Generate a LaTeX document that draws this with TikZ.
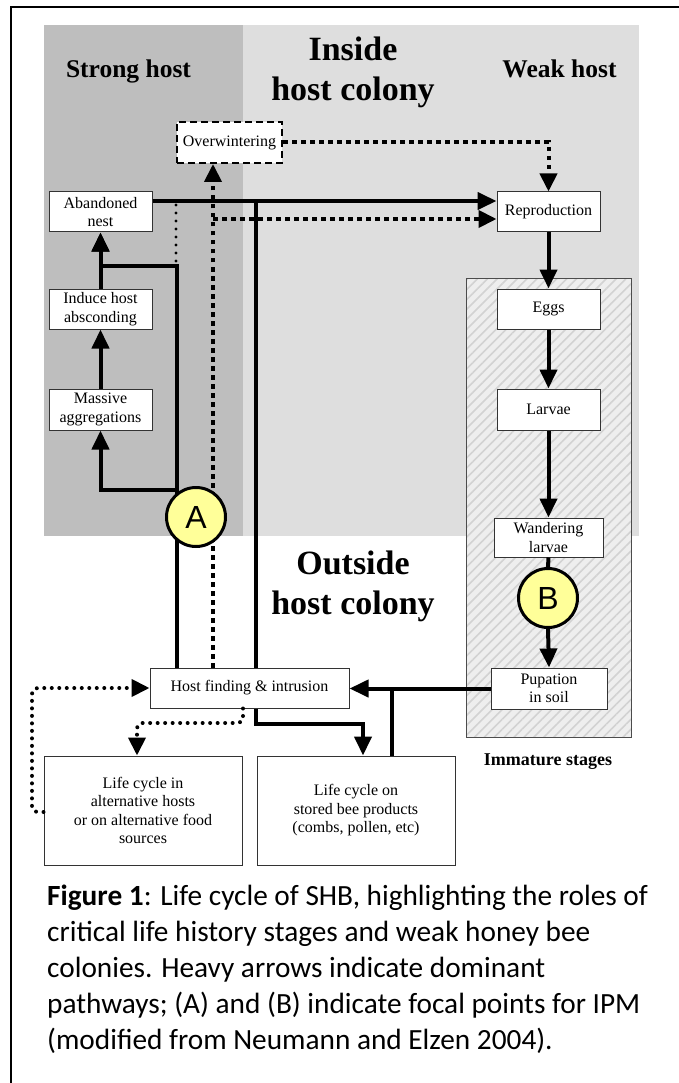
\documentclass[tikz,border=0pt]{standalone}
\usepackage{fontspec}
\setmainfont{Liberation Serif}
\newfontfamily\captionfont{Carlito}
\newfontfamily\markfont{Liberation Sans}
\usetikzlibrary{positioning,arrows.meta,patterns.meta}
\definecolor{strongzone}{RGB}{190,190,190}
\definecolor{weakzone}{RGB}{222,222,222}
\definecolor{soilzone}{RGB}{238,238,238}
\definecolor{soilhatch}{RGB}{210,210,210}
\definecolor{focusfill}{RGB}{255,255,153}
\tikzset{
  leadarrow/.style={-{Triangle[length=19pt,width=17pt]}, line width=4pt},
  dottip/.style={-{Triangle[length=18pt,width=17pt]}},
  sqdotted/.style={line width=4pt, dash pattern=on 4.5pt off 4.5pt},
  rnddotted/.style={line width=4pt, line cap=round, dash pattern=on 0pt off 7.5pt},
  stagebox/.style={draw=black!80, line width=1pt, fill=white, inner sep=0pt, minimum width=103pt, minimum height=40pt, align=center, font=\fontsize{16}{18.5}\selectfont},
  focusring/.style={circle, draw, line width=3pt, fill=focusfill, minimum size=59pt, inner sep=0pt, font=\markfont\fontsize{32}{32}\selectfont},
  zonelabel/.style={font=\bfseries\fontsize{25.5}{30}\selectfont},
  bigtitle/.style={font=\bfseries\fontsize{34}{40}\selectfont, align=center, inner sep=0pt}
}
\begin{document}
\begin{tikzpicture}[x=1pt, y=-1pt]
  \useasboundingbox (0,0) rectangle (679,1083);
  \fill[strongzone] (44,25) rectangle (243,536);
  \fill[weakzone] (243,25) rectangle (639,536);
  \draw[line width=2pt] (679,7) -- (11,7) -- (11,1083);
  \path[preaction={fill=soilzone}, pattern={Lines[angle=45,distance=7pt,line width=1.6pt]}, pattern color=soilhatch, draw=black!70, line width=1pt] (466,278) rectangle (631,737);

  \node[zonelabel, anchor=base] (stronglbl) at (128.5,78) {Strong host};
  \node[zonelabel, anchor=base] (weaklbl) at (559.5,78) {Weak host};
  \node[bigtitle] (insidelbl) at (353,72) {Inside\\host colony};
  \node[bigtitle] (outsidelbl) at (353,586) {Outside\\host colony};
  \node[font=\bfseries\fontsize{18}{20}\selectfont, anchor=base] (immlbl) at (548,765) {Immature stages};

  \node[stagebox, minimum width=105pt, minimum height=41pt, draw=black, line width=2pt, dash pattern=on 7pt off 4pt] (winter) at (229.5,142.5) {Overwintering};
  \node[stagebox] (abandon) at (100.5,212) {Abandoned\\nest};
  \node[stagebox] (induce) at (100.5,309) {Induce host\\absconding};
  \node[stagebox, minimum height=41pt] (massive) at (100.5,409.5) {Massive\\aggregations};
  \node[stagebox] (repro) at (548.5,212) {Reproduction};
  \node[stagebox] (eggs) at (548.5,309) {Eggs};
  \node[stagebox, minimum height=41pt] (larvae) at (548.5,409.5) {Larvae};
  \node[stagebox, minimum width=109pt, minimum height=39pt] (wander) at (548.5,537.5) {Wandering\\larvae};
  \node[stagebox, minimum width=116pt, minimum height=41pt] (pupa) at (549,688.5) {Pupation\\in soil};
  \node[stagebox, minimum width=199pt] (hostfind) at (249.5,688) {Host finding \& intrusion};
  \node[stagebox, minimum width=198pt, minimum height=109pt] (althost) at (143,810.5) {Life cycle in\\alternative hosts\\or on alternative food\\sources};
  \node[stagebox, minimum width=198pt, minimum height=109pt] (stored) at (356,810.5) {Life cycle on\\stored bee products\\(combs, pollen, etc)};
  \node[focusring] (focusB) at (548,598) {B};

  \coordinate (dotcol) at (213,219);
  \coordinate (climb) at (177,266);
  \coordinate (lowfork) at (177,490);
  \coordinate (thinstub) at (176,205);
  \coordinate (feedtop) at (256,201);
  \coordinate (storefork) at (256,724);
  \coordinate (altfork) at (243,723);
  \coordinate (loopcol) at (32,688);

  \draw[leadarrow] ([yshift=11pt]abandon.east) -- ([yshift=11pt]repro.west);
  \draw[sqdotted, dottip] (dotcol |- hostfind.north) -- (dotcol |- winter.south);
  \draw[sqdotted, dottip] (dotcol) -- (dotcol -| repro.west);
  \draw[sqdotted, dottip] (winter.east) -| (repro.north);
  \draw[leadarrow] (climb |- hostfind.north) -- (climb) -| (abandon.south);
  \draw[leadarrow] (lowfork) -| (massive.south);
  \draw[leadarrow] (induce.north) -- (abandon.south);
  \draw[leadarrow] (massive.north) -- (induce.south);
  \draw[rnddotted, line width=3.2pt, dash pattern=on 0pt off 8pt] (thinstub) -- (thinstub |- climb);
  \draw[line width=3.5pt] (hostfind.north -| feedtop) -- (feedtop);
  \draw[leadarrow] (hostfind.south -| storefork) -- (storefork) -| ([xshift=7pt]stored.north);
  \draw[rnddotted, dottip, rounded corners=5pt] (hostfind.south -| altfork) -- (altfork) -| ([xshift=-6pt]althost.north);
  \draw[rnddotted, dottip, rounded corners=6pt] ([yshift=-1.5pt]althost.west) -| (loopcol) -- (hostfind.west);
  \draw[leadarrow] (pupa.west) -- (pupa.west -| hostfind.east);
  \draw[line width=4pt] ([xshift=36pt]stored.north) -- ([xshift=36pt]stored.north |- pupa.west);
  \draw[leadarrow] (repro.south) -- (eggs.north);
  \draw[leadarrow] (eggs.south) -- (larvae.north);
  \draw[leadarrow] (larvae.south) -- (wander.north);
  \draw[line width=4pt] (wander.south) -- (focusB.north);
  \draw[leadarrow] (focusB.south) -- (pupa.north);
  \node[focusring] (focusA) at (196,517) {A};

  \node[anchor=north west, inner sep=0pt, align=left, font=\captionfont\fontsize{29.3}{36}\selectfont] (caption) at (47,885) {\textbf{Figure 1}: Life cycle of SHB, highlighting the roles of\\critical life history stages and weak honey bee\\colonies. Heavy arrows indicate dominant\\pathways; (A) and (B) indicate focal points for IPM\\(modified from Neumann and Elzen 2004).};
\end{tikzpicture}
\end{document}
